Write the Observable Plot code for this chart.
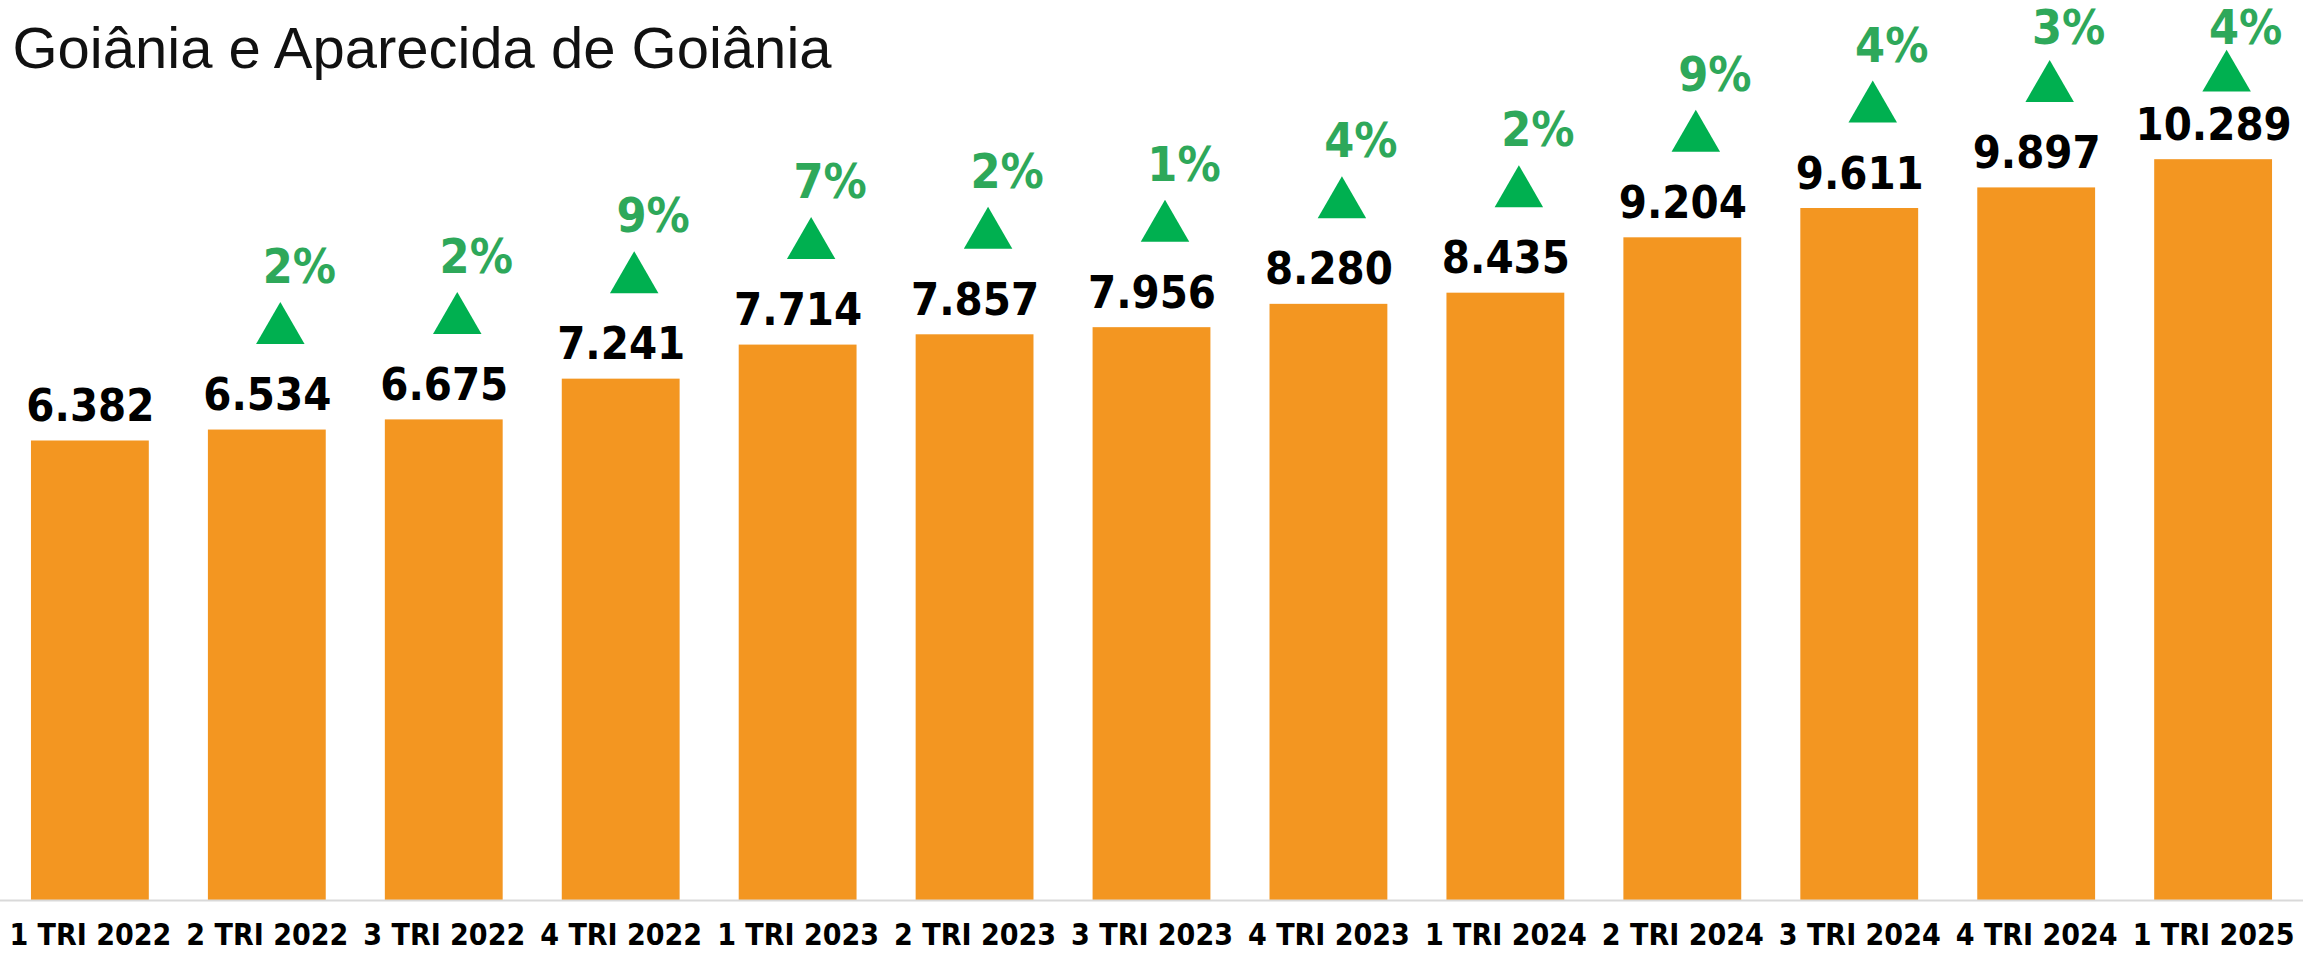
<!DOCTYPE html>
<html>
<head>
<meta charset="utf-8">
<script src="https://cdn.jsdelivr.net/npm/d3@7"></script>
<script src="https://cdn.jsdelivr.net/npm/@observablehq/plot@0.6"></script>
<style>
  html, body { margin: 0; padding: 0; background: #ffffff; }
  #chart { width: 2303px; height: 953px; overflow: hidden; }
</style>
</head>
<body>
<div id="chart"></div>
<script>
const quarters = ["1 TRI 2022", "2 TRI 2022", "3 TRI 2022", "4 TRI 2022",
                  "1 TRI 2023", "2 TRI 2023", "3 TRI 2023", "4 TRI 2023",
                  "1 TRI 2024", "2 TRI 2024", "3 TRI 2024", "4 TRI 2024",
                  "1 TRI 2025"];
const values = [6382, 6534, 6675, 7241, 7714, 7857, 7956, 8280, 8435, 9204, 9611, 9897, 10289];
const growth = [null, 2, 2, 9, 7, 2, 1, 4, 2, 9, 4, 3, 4];
const title = "Goiânia e Aparecida de Goiânia";

const data = quarters.map((q, i) => ({q, v: values[i], g: growth[i]}));
const growthData = data.filter(d => d.g != null);

// growth markers sit above the bar, but are kept inside the top of the frame
const triangleCap = 10040;
const pctCap = 9850;

const br = d3.formatLocale({decimal: ",", thousands: ".", grouping: [3], currency: ["R$", ""]});
const fmt = br.format(",d");

const boldFont = "'DejaVu Sans Condensed', 'DejaVu Sans', sans-serif";

const chart = Plot.plot({
  width: 2303,
  height: 953,
  marginTop: 0,
  marginBottom: 53,
  marginLeft: 0,
  marginRight: 0,
  style: {background: "transparent", color: "#000", fontFamily: boldFont},
  x: {domain: quarters, paddingInner: 0.334, paddingOuter: 0.175, round: false, label: null},
  y: {domain: [0, 12500], axis: null},
  marks: [
    Plot.barY(data, {x: "q", y: "v", fill: "#F39621"}),
    Plot.ruleY([0], {stroke: "#d9d9d9", strokeWidth: 2}),
    Plot.axisX({tickSize: 0, tickPadding: 23, fontSize: 30, fontWeight: "bold", fill: "#000", label: null, fontFamily: boldFont}),
    Plot.text(data, {x: "q", y: "v", text: d => fmt(d.v), dy: -20, lineAnchor: "bottom",
      fontSize: 45, fontWeight: "bold", fill: "#000", fontFamily: boldFont}),
    Plot.dot(growthData, {x: "q", y: d => Math.min(d.v, triangleCap), symbol: "triangle", r: 18,
      fill: "#00B050", stroke: "none", dx: 13, dy: -100}),
    Plot.text(growthData, {x: "q", y: d => Math.min(d.v, pctCap), text: d => d.g + "%", dx: 32, dy: -147,
      lineAnchor: "bottom", fontSize: 48, fontWeight: "bold", fill: "#2EA85A", fontFamily: boldFont}),
    Plot.text([title], {text: d => d, frameAnchor: "top-left", textAnchor: "start", lineAnchor: "top",
      dx: 12, dy: 26, fontSize: 58, fill: "#111", fontFamily: "'Liberation Sans', Arial, sans-serif"})
  ]
});
document.getElementById("chart").appendChild(chart);
</script>
</body>
</html>
